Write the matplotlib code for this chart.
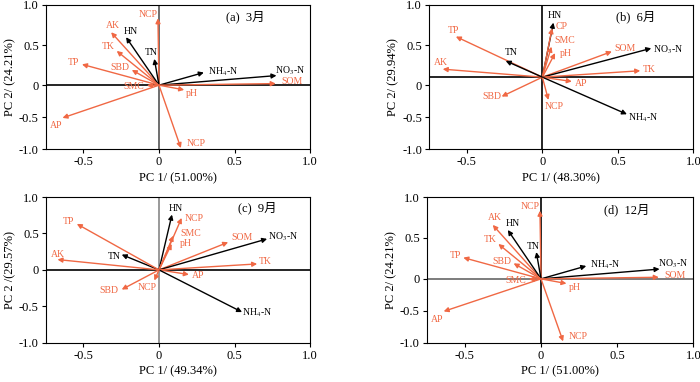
import numpy as np
import matplotlib
matplotlib.use("Agg")
import matplotlib.pyplot as plt
from matplotlib.scale import FuncScale

plt.rcParams['font.family'] = ['Liberation Serif', 'Noto Sans CJK SC']
plt.rcParams['mathtext.fontset'] = 'stix'
plt.rcParams['axes.unicode_minus'] = False

ORANGE = '#F06844'

# ---- data: loadings (arrow tips) ----
# panel (a) 3月  (panel (d) 12月 repeats the same loadings in the source)
names_a = ['NCP', 'AK', 'HN', 'TK', 'TN', 'TP', 'SBD', 'SMC',
           'NH$_4$-N', 'NO$_3$-N', 'SOM', 'pH', 'AP', 'NCP']
pc1_a = [-0.007, -0.317, -0.218, -0.28, -0.031, -0.51, -0.18, -0.08,
         0.297, 0.778, 0.773, 0.167, -0.639, 0.145]
pc2_a = [0.834, 0.66, 0.598, 0.427, 0.328, 0.26, 0.19, -0.005,
         0.158, 0.12, 0.02, -0.073, -0.51, -0.98]
black_a = ['HN', 'TN', 'NH$_4$-N', 'NO$_3$-N']

# panel (b) 6月, arrows start from (0, 0.1)
names_b = ['HN', 'CP', 'SMC', 'pH', 'SOM', 'NO$_3$-N', 'TK', 'AP',
           'NH$_4$-N', 'NCP', 'SBD', 'AK', 'TP', 'TN']
pc1_b = [0.073, 0.064, 0.06, 0.084, 0.46, 0.721, 0.648, 0.195,
         0.56, 0.04, -0.27, -0.66, -0.573, -0.243]
pc2_b = [0.78, 0.71, 0.48, 0.4, 0.42, 0.46, 0.18, 0.046,
         -0.453, -0.23, -0.177, 0.2, 0.606, 0.303]
black_b = ['HN', 'TN', 'NO$_3$-N', 'NH$_4$-N']

# panel (c) 9月
names_c = ['HN', 'NCP', 'SMC', 'pH', 'SOM', 'NO$_3$-N', 'TK', 'AP',
           'NH$_4$-N', 'NCP', 'SBD', 'TN', 'AK', 'TP']
pc1_c = [0.086, 0.15, 0.095, 0.084, 0.458, 0.716, 0.65, 0.198,
         0.55, -0.031, -0.247, -0.247, -0.672, -0.544]
pc2_c = [0.76, 0.714, 0.47, 0.357, 0.38, 0.426, 0.082, -0.064,
         -0.58, -0.146, -0.27, 0.21, 0.142, 0.632]
black_c = ['HN', 'TN', 'NO$_3$-N', 'NH$_4$-N']

# label offsets from arrow tips (pixels)
off_a = [(-10, 4), (2, 7), (5, 6), (-8, 4), (-3, 6), (-8, 2), (-12, 2), (-13, -1),
         (19, 1), (14, 5), (16, 2), (8, -4), (-6, -8), (15, 5)]
off_b = [(1, 7), (10, 2), (13, 6), (11, 0), (13, 3), (17, -1), (9, 1), (9, -2),
         (16, -3), (6, -7), (-10, 0), (-2, 7), (-2, 6), (6, 8)]
off_c = [(4, 6), (13, -1), (17, 2), (14, 0), (14, 5), (16, 2), (8, 2), (9, -1),
         (15, -1), (-7, -7), (-13, -1), (-7, -2), (0, 5), (-8, 2)]

panels = [
    dict(pos=[0.0653, 0.609, 0.3776, 0.378], tag='(a)  3月', tagpos=(0.755, 0.915),
         names=names_a, x=pc1_a, y=pc2_a, black=black_a, off=off_a, origin=(0, 0),
         r=0.8, xl='PC 1/ (51.00%)', yl='PC 2/ (24.21%)', hcol='black', vcol='#555555'),
    dict(pos=[0.613, 0.609, 0.3776, 0.378], tag='(b)  6月', tagpos=(0.78, 0.915),
         names=names_b, x=pc1_b, y=pc2_b, black=black_b, off=off_b, origin=(0, 0.1),
         r=0.8, xl='PC 1/ (48.30%)', yl='PC 2/ (29.94%)', hcol='black', vcol='black'),
    dict(pos=[0.0653, 0.103, 0.3776, 0.381], tag='(c)  9月', tagpos=(0.80, 0.925),
         names=names_c, x=pc1_c, y=pc2_c, black=black_c, off=off_c, origin=(0, 0),
         r=1.0, xl='PC 1/ (49.34%)', yl='PC 2 /(29.57%)', hcol='black', vcol='#888888'),
    dict(pos=[0.6096, 0.103, 0.381, 0.381], tag='(d)  12月', tagpos=(0.75, 0.915),
         names=names_a, x=pc1_a, y=pc2_a, black=black_a, off=off_a, origin=(0, 0),
         r=0.78, xl='PC 1/ (51.00%)', yl='PC 2/ (24.21%)', hcol='#666666', vcol='black'),
]

fig = plt.figure(figsize=(7, 3.82), dpi=100)

for p in panels:
    ax = fig.add_axes(p['pos'])
    r = p['r']
    ax.set_yscale(FuncScale(ax.yaxis, (lambda v, r=r: np.where(v >= 0, v, v * r),
                                       lambda v, r=r: np.where(v >= 0, v, v / r))))
    ax.set_xlim(-0.75, 1.0)
    ax.set_ylim(-1.0, 1.0)
    ox, oy = p['origin']
    ax.axhline(oy, color=p['hcol'], lw=1.2, zorder=1)
    ax.axvline(ox, color=p['vcol'], lw=1.2, zorder=1)

    for name, x, y, (dx, dy) in zip(p['names'], p['x'], p['y'], p['off']):
        col = 'black' if name in p['black'] else ORANGE
        ax.annotate('', xy=(x, y), xytext=(ox, oy),
                    arrowprops=dict(arrowstyle='-|>', color=col, lw=1.0,
                                    mutation_scale=7, shrinkA=0, shrinkB=0),
                    zorder=3)
        ax.annotate(name, xy=(x, y), xytext=(dx, dy), textcoords='offset pixels',
                    ha='center', va='center', fontsize=7, color=col, zorder=4)

    ax.text(p['tagpos'][0], p['tagpos'][1], p['tag'], transform=ax.transAxes,
            ha='center', va='center', fontsize=9)

    ax.set_xticks([-0.5, 0, 0.5, 1.0])
    ax.set_xticklabels(['-0.5', '0', '0.5', '1.0'])
    ax.set_yticks([-1.0, -0.5, 0, 0.5, 1.0])
    ax.set_yticklabels(['-1.0', '-0.5', '0', '0.5', '1.0'])
    ax.tick_params(direction='out', length=3, width=0.8, labelsize=9, pad=2)
    ax.set_xlabel(p['xl'], fontsize=9, labelpad=3)
    ax.set_ylabel(p['yl'], fontsize=9, labelpad=2)
    for s in ax.spines.values():
        s.set_linewidth(0.8)

fig.savefig('out.png', dpi=100)
